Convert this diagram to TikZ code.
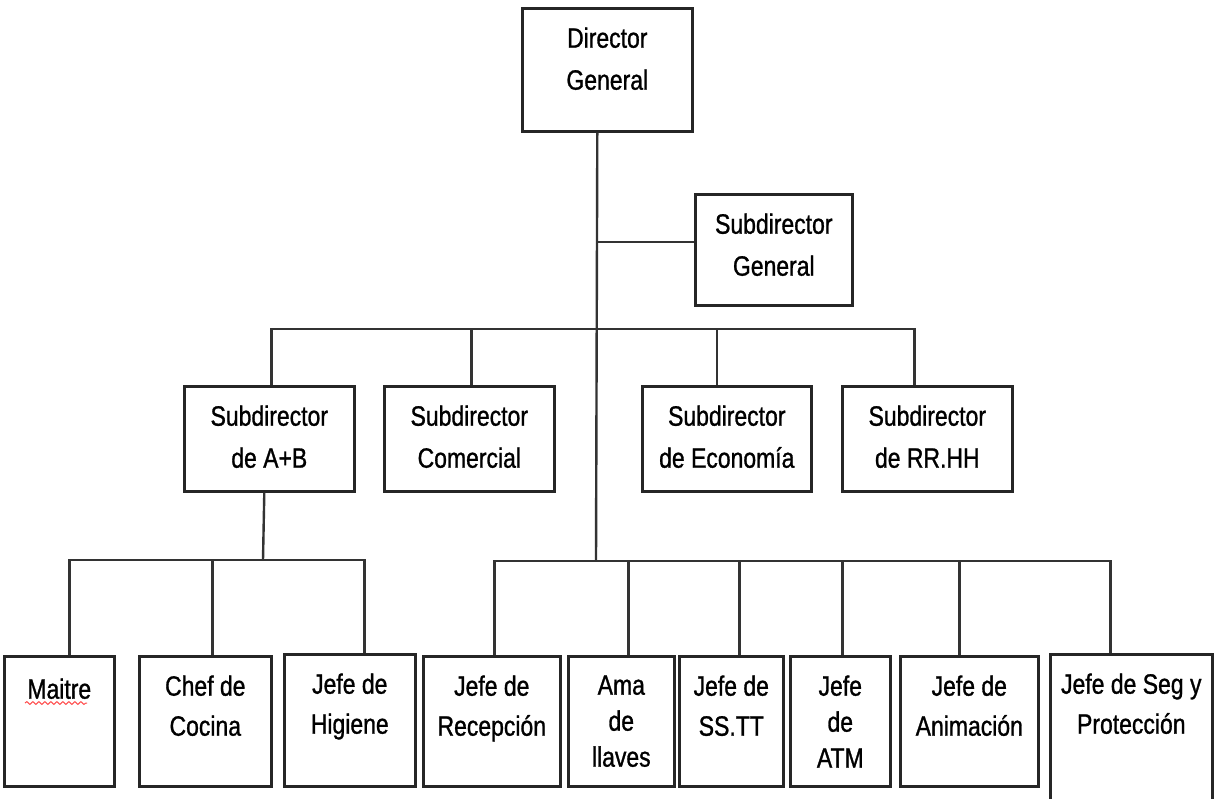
\documentclass[tikz,border=0pt]{standalone}
\usepackage{fontspec}
\setmainfont{Liberation Sans}[FakeStretch=0.82,FakeBold=1]
\usetikzlibrary{positioning,calc,decorations.pathmorphing}

\begin{document}
\begin{tikzpicture}[x=0.5pt,y=-0.5pt,
  caja/.style={draw=black!85,line width=1.3pt,anchor=north west,inner sep=0pt},
  linea/.style={draw=black!80,line width=1.2pt},
  texto/.style={anchor=north,inner sep=0pt,yshift=-10pt,align=center,font=\fontsize{14}{21}\selectfont},
  textob/.style={texto,font=\fontsize{14}{20}\selectfont},
  textoc/.style={texto,font=\fontsize{14}{18}\selectfont}]
  \useasboundingbox (0,0) rectangle (1215,798);
  % direccion
  \node[caja,minimum width=85pt,minimum height=61.5pt,label={[texto]north:{Director\\General}}] (dg) at (521,7) {};
  \node[caja,minimum width=78.5pt,minimum height=55.5pt,label={[texto]north:{Subdirector\\General}}] (sg) at (694,193) {};
  % subdirecciones
  \node[caja,minimum width=85pt,minimum height=52.5pt,label={[texto]north:{Subdirector\\de A+B}}] (ab) at (183,385) {};
  \node[caja,minimum width=85pt,minimum height=52.5pt,label={[texto]north:{Subdirector\\Comercial}}] (com) at (383,385) {};
  \node[caja,minimum width=84.5pt,minimum height=52.5pt,label={[texto]north:{Subdirector\\de Economía}}] (eco) at (641,385) {};
  \node[caja,minimum width=85pt,minimum height=52.5pt,label={[texto]north:{Subdirector\\de RR.HH}}] (rh) at (841,385) {};
  % jefaturas
  \node[caja,minimum width=55pt,minimum height=65pt,label={[texto,yshift=-1.5pt]north:Maitre}] (mai) at (3,655) {};
  \node[caja,minimum width=66pt,minimum height=65pt,label={[textob]north:{Chef de\\Cocina}}] (chef) at (138,655) {};
  \node[caja,minimum width=65.5pt,minimum height=66pt,label={[textob]north:{Jefe de\\Higiene}}] (hig) at (283,653) {};
  \node[caja,minimum width=68.5pt,minimum height=65pt,label={[textob]north:{Jefe de\\Recepción}}] (rec) at (422,655) {};
  \node[caja,minimum width=53pt,minimum height=65pt,label={[textoc]north:{Ama\\de\\llaves}}] (ama) at (567,655) {};
  \node[caja,minimum width=52pt,minimum height=65pt,label={[textob]north:{Jefe de\\SS.TT}}] (sst) at (678,655) {};
  \node[caja,minimum width=50pt,minimum height=65pt,label={[textoc]north:{Jefe\\de\\ATM}}] (atm) at (789,655) {};
  \node[caja,minimum width=69pt,minimum height=65pt,label={[textob]north:{Jefe de\\Animación}}] (ani) at (899,655) {};
  \node[caja,minimum width=81pt,minimum height=75pt,label={[textob]north:{Jefe de Seg y\\Protección}}] (seg) at (1049,653) {};
  \draw[red!70,line width=0.5pt,decorate,decoration={snake,amplitude=0.7pt,segment length=3pt}] (25,703) -- (87,703);
  % lineas
  \coordinate (tronco) at ($(dg.south)+(-10,0)$);
  \coordinate (nudo2) at (596,329);
  \coordinate (nudo3) at (596,561);
  \coordinate (nudoab) at (263,560);
  \coordinate (sgw) at ($(sg.west)+(0,-8)$);
  \draw[linea] (tronco) -- (nudo3);
  \draw[linea] (sgw) -- (sgw -| tronco);
  \foreach \n/\dx in {ab/2,com/2,eco/-10,rh/-13}
    \draw[linea] ($(\n.north)+(\dx,0)$) |- (nudo2);
  \draw[linea] ($(ab.south)+(-5,0)$) -- (nudoab);
  \foreach \n/\dx in {mai/10,chef/7,hig/14.5}
    \draw[linea] ($(\n.north)+(\dx,0)$) |- (nudoab);
  \foreach \n/\dx in {rec/2.5,ama/7,sst/8,atm/2,ani/-10,seg/-21}
    \draw[linea] ($(\n.north)+(\dx,0)$) |- (nudo3);
\end{tikzpicture}
\end{document}
